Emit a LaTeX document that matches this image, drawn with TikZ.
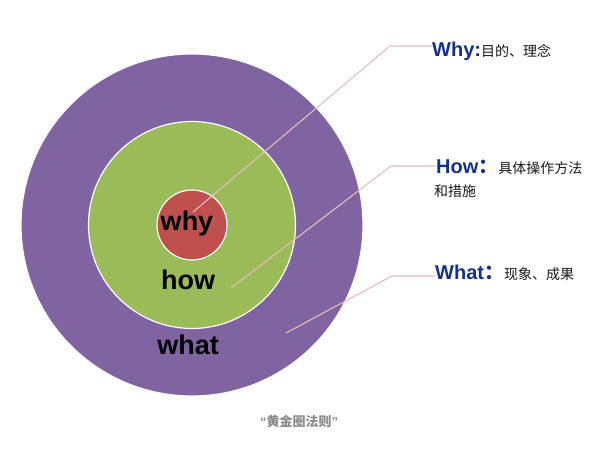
\documentclass[tikz,border=0pt]{standalone}
\usepackage{fontspec}
\setmainfont{Liberation Sans}
\newfontfamily\cjk{Noto Sans CJK SC}
\usetikzlibrary{positioning}

\definecolor{whatpurple}{HTML}{8064A2}
\definecolor{howgreen}{HTML}{9BBB59}
\definecolor{whyred}{HTML}{C0504D}
\definecolor{leadpink}{HTML}{E3BDBA}
\definecolor{tagblue}{HTML}{13308F}
\definecolor{capgray}{HTML}{8A8A8A}

\newcommand\notefont{\cjk\mdseries\fontsize{14}{16}\selectfont\color{black!90}}

\begin{document}
\begin{tikzpicture}[
    x=1pt, y=-1pt,
    % Styles
    ring/.style={circle, draw=white, line width=1.2pt, inner sep=0pt},
    core word/.style={anchor=base, inner sep=0pt, text=black, font=\fontsize{27}{27}\selectfont\bfseries},
    leader/.style={draw=leadpink, line width=1.1pt},
    tag/.style={anchor=base west, inner sep=0pt, text=tagblue, font=\fontsize{20}{20}\selectfont\bfseries},
    note/.style={anchor=base west, inner sep=0pt, font=\notefont},
    caption/.style={anchor=base, inner sep=0pt, text=capgray, font=\fontsize{13}{13}\selectfont\bfseries}
]
\useasboundingbox (0,0) rectangle (600,462);

% Golden circle rings
\node[ring, fill=whatpurple, minimum size=342pt] (whatring) at (192,225) {};
\node[ring, fill=howgreen, minimum size=207pt] (howring) at (192,225) {};
\node[ring, fill=whyred, minimum size=70pt] (whyring) at (192,225) {};

% Ring words
\node[core word] (whyword) at (187,231) {why};
\node[core word] (howword) at (188,290) {how};
\node[core word] (whatword) at (188,355) {what};

% Side labels
\node[tag] (whytag) at (432,57) {Why:{\notefont 目的、理念}};
\node[tag] (howtag) at (436,174) {How{\cjk\bfseries ：}{\notefont 具体操作方法}};
\node[note] (howmore) at (434,197) {和措施};
\node[tag] (whattag) at (435,280) {What{\cjk\bfseries ：}{\notefont 现象、成果}};

% Leader lines
\coordinate (whyfoot) at (193,212);
\coordinate (whybend) at (390,46);
\coordinate (howfoot) at (231,288);
\coordinate (howbend) at (391,166);
\coordinate (whatfoot) at (286,333);
\coordinate (whatbend) at (392,276);

\draw[leader] (whyfoot) -- (whybend) -- (whybend -| whytag.west);
\draw[leader] (howfoot) -- (howbend) -- (howbend -| howtag.west);
\draw[leader] (whatfoot) -- (whatbend) -- (whatbend -| whattag.west);

% Caption
\node[caption] (title) at (299,426) {“{\cjk 黄金圈法则}”};

\end{tikzpicture}
\end{document}
